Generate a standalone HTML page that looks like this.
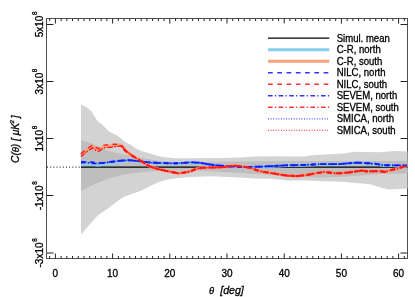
<!DOCTYPE html>
<html><head><meta charset="utf-8"><title>plot</title>
<style>
html,body{margin:0;padding:0;background:#fff;}
body{width:415px;height:297px;overflow:hidden;}
svg{will-change:transform;}
svg text{font-family:"Liberation Sans",sans-serif;fill:#000;white-space:pre;stroke:#000;stroke-width:0.3px;}
.t{font-size:10px;}
.ti{font-size:10.2px;font-style:italic;}
</style></head><body>
<svg width="415" height="297" viewBox="0 0 415 297" style="display:block">
<rect width="415" height="297" fill="#fff"/>
<g stroke="#505050" stroke-width="1" fill="none" shape-rendering="crispEdges">
<rect x="46.5" y="18.5" width="361" height="240"/>
</g>
<g stroke="#222" stroke-width="1" fill="none">
<path d="M49.68 258.5v-2.5M49.68 18.5v2.5M55.40 258.5v-5M55.40 18.5v5M61.12 258.5v-2.5M61.12 18.5v2.5M66.84 258.5v-2.5M66.84 18.5v2.5M72.56 258.5v-2.5M72.56 18.5v2.5M78.28 258.5v-2.5M78.28 18.5v2.5M84.00 258.5v-2.5M84.00 18.5v2.5M89.72 258.5v-2.5M89.72 18.5v2.5M95.44 258.5v-2.5M95.44 18.5v2.5M101.16 258.5v-2.5M101.16 18.5v2.5M106.88 258.5v-2.5M106.88 18.5v2.5M112.60 258.5v-5M112.60 18.5v5M118.32 258.5v-2.5M118.32 18.5v2.5M124.04 258.5v-2.5M124.04 18.5v2.5M129.76 258.5v-2.5M129.76 18.5v2.5M135.48 258.5v-2.5M135.48 18.5v2.5M141.20 258.5v-2.5M141.20 18.5v2.5M146.92 258.5v-2.5M146.92 18.5v2.5M152.64 258.5v-2.5M152.64 18.5v2.5M158.36 258.5v-2.5M158.36 18.5v2.5M164.08 258.5v-2.5M164.08 18.5v2.5M169.80 258.5v-5M169.80 18.5v5M175.52 258.5v-2.5M175.52 18.5v2.5M181.24 258.5v-2.5M181.24 18.5v2.5M186.96 258.5v-2.5M186.96 18.5v2.5M192.68 258.5v-2.5M192.68 18.5v2.5M198.40 258.5v-2.5M198.40 18.5v2.5M204.12 258.5v-2.5M204.12 18.5v2.5M209.84 258.5v-2.5M209.84 18.5v2.5M215.56 258.5v-2.5M215.56 18.5v2.5M221.28 258.5v-2.5M221.28 18.5v2.5M227.00 258.5v-5M227.00 18.5v5M232.72 258.5v-2.5M232.72 18.5v2.5M238.44 258.5v-2.5M238.44 18.5v2.5M244.16 258.5v-2.5M244.16 18.5v2.5M249.88 258.5v-2.5M249.88 18.5v2.5M255.60 258.5v-2.5M255.60 18.5v2.5M261.32 258.5v-2.5M261.32 18.5v2.5M267.04 258.5v-2.5M267.04 18.5v2.5M272.76 258.5v-2.5M272.76 18.5v2.5M278.48 258.5v-2.5M278.48 18.5v2.5M284.20 258.5v-5M284.20 18.5v5M289.92 258.5v-2.5M289.92 18.5v2.5M295.64 258.5v-2.5M295.64 18.5v2.5M301.36 258.5v-2.5M301.36 18.5v2.5M307.08 258.5v-2.5M307.08 18.5v2.5M312.80 258.5v-2.5M312.80 18.5v2.5M318.52 258.5v-2.5M318.52 18.5v2.5M324.24 258.5v-2.5M324.24 18.5v2.5M329.96 258.5v-2.5M329.96 18.5v2.5M335.68 258.5v-2.5M335.68 18.5v2.5M341.40 258.5v-5M341.40 18.5v5M347.12 258.5v-2.5M347.12 18.5v2.5M352.84 258.5v-2.5M352.84 18.5v2.5M358.56 258.5v-2.5M358.56 18.5v2.5M364.28 258.5v-2.5M364.28 18.5v2.5M370.00 258.5v-2.5M370.00 18.5v2.5M375.72 258.5v-2.5M375.72 18.5v2.5M381.44 258.5v-2.5M381.44 18.5v2.5M387.16 258.5v-2.5M387.16 18.5v2.5M392.88 258.5v-2.5M392.88 18.5v2.5M398.60 258.5v-5M398.60 18.5v5M404.32 258.5v-2.5M404.32 18.5v2.5"/>
<path d="M46.5 24.50h7M407.5 24.50h-7M46.5 81.50h7M407.5 81.50h-7M46.5 138.50h7M407.5 138.50h-7M46.5 195.50h7M407.5 195.50h-7"/>
</g>
<path d="M47 253h6.5M407 253h-6.5" stroke="#222" stroke-width="1" fill="none"/>
<polygon points="81.0,104.5 86.8,107.6 91.9,111.8 96.9,120.2 103.7,126.1 109.6,132.0 115.5,134.6 120.5,137.9 125.6,142.2 130.2,144.6 134.0,147.2 140.0,150.5 148.0,153.0 157.0,155.8 165.0,157.3 173.7,158.3 190.6,158.2 210.0,157.9 221.9,157.9 238.7,157.4 255.6,156.5 275.0,156.2 286.9,156.4 303.7,156.4 312.0,155.2 329.0,154.3 340.0,153.8 345.0,153.2 355.0,151.7 378.7,152.2 395.6,150.9 407.5,151.4 407.5,188.5 388.8,189.4 378.7,186.9 370.3,184.3 345.0,182.0 340.0,181.7 320.0,181.0 303.7,180.5 286.9,180.4 275.0,179.0 255.6,178.4 238.7,177.4 221.9,176.8 210.0,176.3 190.6,176.9 175.6,178.2 167.2,179.8 158.7,181.9 150.3,186.1 141.9,190.3 134.0,193.3 125.6,196.0 117.2,201.2 108.7,208.0 97.9,215.2 90.0,224.0 81.0,234.6" fill="#d3d3d3"/>
<polygon points="81.0,140.7 86.0,141.5 91.9,143.4 100.0,147.0 108.7,151.0 120.0,153.7 130.0,155.7 140.0,157.8 152.0,159.8 160.0,161.0 173.7,162.0 205.0,162.0 240.0,161.6 275.0,161.3 340.0,161.0 407.5,161.0 407.5,173.6 380.0,174.0 360.0,175.5 340.0,177.1 320.0,177.6 300.0,176.9 275.0,175.0 240.0,173.0 210.0,171.2 190.0,170.6 174.0,170.6 157.0,171.0 145.0,171.8 125.6,174.2 108.7,178.4 91.9,185.2 81.0,191.0" fill="#bebebe"/>
<path d="M47 167.1H82" stroke="#000" stroke-width="1" stroke-dasharray="1 2.17" fill="none"/>
<path d="M81 167.1H407.5" stroke="#000" stroke-width="1.1" fill="none"/>
<polyline points="81.0,164.0 82.8,164.0 84.5,164.1 86.2,164.1 88.0,164.1 89.8,164.3 91.6,164.5 93.4,164.6 95.2,164.8 97.0,165.0 98.8,164.9 100.5,164.8 102.2,164.6 104.0,164.4 106.0,164.0 108.0,163.6 110.0,163.3 112.0,162.9 114.0,162.5 116.0,162.2 118.0,161.8 120.0,161.4 122.0,161.2 124.0,161.0 126.0,160.8 128.0,160.6 130.0,160.4 131.7,160.6 133.5,160.8 135.2,160.9 136.9,161.1 138.7,161.3 140.4,161.5 142.4,161.8 144.4,162.1 146.4,162.3 148.4,162.6 150.3,162.7 152.3,162.8 154.2,162.9 156.1,163.0 158.1,163.1 160.0,163.2 162.0,163.2 163.9,163.3 165.9,163.3 167.8,163.4 169.8,163.4 171.7,163.5 173.7,163.5 175.4,163.4 177.0,163.4 178.7,163.3 180.3,163.3 182.0,163.2 183.7,163.1 185.4,162.9 187.2,162.8 188.9,162.6 190.6,162.5 192.5,162.6 194.4,162.7 196.2,162.8 198.1,162.9 200.0,163.0 201.7,163.3 203.4,163.6 205.2,163.9 206.9,164.2 208.6,164.4 210.3,164.7 211.9,164.9 213.6,165.2 215.3,165.4 217.0,165.6 218.7,165.7 220.3,165.9 222.0,166.0 223.7,166.2 225.3,166.3 227.0,166.4 228.7,166.6 230.3,166.7 232.0,166.8 233.7,166.8 235.4,166.9 237.2,167.0 238.9,167.0 240.6,167.1 242.2,167.1 243.9,167.1 245.5,167.2 247.2,167.2 249.1,167.1 250.9,167.1 252.8,167.0 254.7,167.0 256.5,166.9 258.4,166.9 260.3,166.8 262.1,166.8 264.0,166.7 265.8,166.6 267.7,166.5 269.5,166.4 271.3,166.3 273.2,166.2 275.0,166.1 277.0,166.0 279.0,165.9 280.9,165.8 282.9,165.7 284.9,165.6 286.9,165.5 288.8,165.5 290.6,165.4 292.5,165.4 294.4,165.4 296.2,165.3 298.1,165.3 300.0,165.3 301.8,165.2 303.7,165.2 305.6,165.1 307.5,165.0 309.3,164.9 311.2,164.8 313.1,164.7 315.0,164.6 316.8,164.5 318.7,164.4 320.6,164.3 322.5,164.3 324.5,164.3 326.4,164.3 328.4,164.3 330.3,164.3 332.2,164.3 334.2,164.3 336.1,164.3 338.1,164.3 340.0,164.3 341.7,164.1 343.3,164.0 345.0,163.8 347.0,163.6 348.9,163.5 350.9,163.3 352.9,163.1 354.8,163.0 356.8,162.8 358.5,162.9 360.2,163.0 361.9,163.1 363.6,163.2 365.3,163.3 367.0,163.4 368.7,163.5 370.4,163.6 372.0,163.8 373.7,163.9 375.4,164.0 377.1,164.3 378.8,164.6 380.4,164.8 382.1,165.1 383.8,165.4 385.8,165.4 387.7,165.5 389.7,165.5 391.7,165.5 393.6,165.6 395.6,165.6 397.5,165.6 399.4,165.6 401.3,165.6 403.2,165.7 405.1,165.7 407.0,165.7" stroke="#87ceeb" stroke-width="3" fill="none" stroke-linejoin="round"/>
<polyline points="81.0,155.1 82.7,153.7 84.3,152.4 86.0,151.0 87.6,149.8 89.2,148.7 90.9,147.5 92.5,146.3 94.0,147.4 95.5,148.5 97.0,149.3 98.6,150.1 100.0,149.1 101.5,148.0 102.9,147.2 104.3,146.5 106.2,146.3 108.1,146.2 110.0,146.0 112.0,145.8 114.0,145.5 115.8,145.4 117.5,145.3 119.2,145.3 121.0,145.2 123.0,147.5 124.1,149.1 125.2,150.6 126.9,151.8 128.5,153.0 130.2,154.2 131.9,155.4 133.6,156.5 135.3,157.7 137.0,158.7 138.7,159.7 140.4,160.7 142.1,161.7 143.7,162.8 145.4,163.8 147.1,164.8 148.8,165.8 150.5,166.8 152.1,167.3 153.8,167.8 155.4,168.2 157.1,168.7 158.7,169.2 160.4,169.6 162.1,169.9 163.8,170.3 165.4,170.7 167.1,171.0 168.8,171.4 170.5,171.7 172.2,172.1 173.9,172.4 175.6,172.7 177.3,173.1 179.0,173.4 180.7,173.1 182.4,172.8 184.0,172.6 185.7,172.3 187.4,172.0 188.7,171.7 190.0,171.4 191.7,170.8 193.3,170.1 195.0,169.5 196.7,168.9 198.4,168.3 200.1,168.1 201.8,168.0 203.5,167.8 205.2,167.7 206.9,167.5 208.6,167.5 210.3,167.5 211.9,167.5 213.6,167.5 215.3,167.5 217.0,167.4 218.7,167.3 220.3,167.2 222.0,167.1 223.7,167.0 225.4,166.7 227.1,166.5 228.8,166.2 230.5,166.0 232.2,165.7 233.9,165.8 235.6,165.9 237.2,166.0 238.9,166.1 240.6,166.3 242.2,166.6 243.9,166.8 245.6,167.0 247.3,167.3 249.0,167.7 250.7,168.1 252.4,168.4 254.0,169.1 255.6,169.7 257.1,170.2 258.5,170.7 260.0,171.2 262.0,171.6 264.0,172.0 266.0,172.3 268.0,172.5 270.0,172.8 272.0,173.2 274.0,173.5 276.0,173.9 278.0,174.2 280.0,174.6 282.0,174.9 284.0,175.1 286.0,175.4 288.0,175.7 289.8,175.8 291.6,175.9 293.4,175.9 295.2,176.0 297.0,176.1 299.0,175.9 301.0,175.6 303.0,175.4 305.0,175.1 307.0,174.9 308.7,174.6 310.4,174.3 312.1,173.9 313.8,173.6 315.5,173.3 317.2,173.0 318.9,172.7 320.6,172.5 322.3,172.2 324.0,171.9 326.0,172.1 328.0,172.4 330.0,172.6 332.0,172.9 334.0,173.1 336.0,173.2 338.0,173.2 340.0,173.3 341.7,173.1 343.3,173.0 345.0,172.8 347.0,172.6 349.0,172.4 351.0,172.1 353.0,171.9 354.8,171.6 356.6,171.3 358.3,171.1 360.1,170.8 361.9,170.5 363.6,170.8 365.3,171.1 367.0,171.4 368.6,171.4 370.3,171.3 372.0,171.2 373.7,171.2 375.3,171.1 377.0,171.1 378.7,171.0 380.3,171.2 381.9,171.4 383.4,171.7 385.0,171.9 386.9,171.3 388.7,170.8 390.6,170.2 392.3,169.8 394.0,169.4 395.6,169.0 397.3,168.6 399.0,168.2 401.0,167.5 403.0,166.8 405.0,166.2 407.0,165.5" stroke="#ffa07a" stroke-width="3" fill="none" stroke-linejoin="round"/>
<polyline points="81.0,161.6 82.8,161.7 84.5,161.7 86.2,161.7 88.0,161.8 89.8,161.9 91.6,162.1 93.4,162.3 95.2,162.5 97.0,162.7 98.8,162.7 100.0,162.6" stroke="#1a1aff" stroke-width="1.5" stroke-dasharray="4.7 4.5" fill="none" stroke-linejoin="round"/>
<polyline points="81.0,162.8 82.8,162.8 84.5,162.8 86.2,162.8 88.0,162.9 89.8,163.0 91.6,163.2 93.4,163.4 95.2,163.5 97.0,163.7 98.8,163.5 100.0,163.4" stroke="#1a1aff" stroke-width="1.5" stroke-dasharray="4.6 2.3 1.2 2.5" fill="none" stroke-linejoin="round"/>
<polyline points="81.0,162.2 82.8,162.2 84.5,162.2 86.2,162.3 88.0,162.3 89.8,162.5 91.6,162.7 93.4,162.8 95.2,163.0 97.0,163.2 98.8,163.1 100.0,163.0" stroke="#1a1aff" stroke-width="1.1" stroke-dasharray="1 1.57" fill="none" stroke-linejoin="round"/>
<polyline points="100.0,163.0 100.5,163.0 102.2,162.9 104.0,162.8 106.0,162.5 108.0,162.3 110.0,162.0 112.0,161.7 114.0,161.5 116.0,161.2 118.0,161.0 120.0,160.7 122.0,160.6 124.0,160.5 126.0,160.4 128.0,160.3 130.0,160.2 131.7,160.4 133.5,160.6 135.2,160.8 136.9,160.9 138.7,161.1 140.4,161.3 142.4,161.6 144.4,161.9 146.4,162.1 148.4,162.4 150.3,162.5 152.3,162.6 154.2,162.7 156.1,162.8 158.1,162.9 160.0,163.0 162.0,163.0 163.9,163.1 165.9,163.1 167.8,163.2 169.8,163.2 171.7,163.3 173.7,163.3 175.4,163.2 177.0,163.2 178.7,163.1 180.3,163.1 182.0,163.0 183.7,162.9 185.4,162.7 187.2,162.6 188.9,162.4 190.6,162.3 192.5,162.4 194.4,162.5 196.2,162.6 198.1,162.7 200.0,162.8 201.7,163.1 203.4,163.4 205.2,163.7 206.9,164.0 208.6,164.2 210.3,164.5 211.9,164.7 213.6,165.0 215.3,165.2 217.0,165.4 218.7,165.5 220.3,165.7 222.0,165.8 223.7,166.0 225.3,166.1 227.0,166.2 228.7,166.4 230.3,166.5 232.0,166.6 233.7,166.6 235.4,166.7 237.2,166.8 238.9,166.8 240.6,166.9 242.2,166.9 243.9,166.9 245.5,167.0 247.2,167.0 249.1,166.9 250.9,166.9 252.8,166.8 254.7,166.8 256.5,166.7 258.4,166.7 260.3,166.6 262.1,166.6 264.0,166.5 265.8,166.4 267.7,166.3 269.5,166.2 271.3,166.1 273.2,166.0 275.0,165.9 277.0,165.8 279.0,165.7 280.9,165.6 282.9,165.5 284.9,165.4 286.9,165.3 288.8,165.3 290.6,165.2 292.5,165.2 294.4,165.2 296.2,165.1 298.1,165.1 300.0,165.1 301.8,165.0 303.7,165.0 305.6,164.9 307.5,164.8 309.3,164.7 311.2,164.6 313.1,164.5 315.0,164.4 316.8,164.3 318.7,164.2 320.6,164.1 322.5,164.1 324.5,164.1 326.4,164.1 328.4,164.1 330.3,164.1 332.2,164.1 334.2,164.1 336.1,164.1 338.1,164.1 340.0,164.1 341.7,163.9 343.3,163.8 345.0,163.6 347.0,163.4 348.9,163.3 350.9,163.1 352.9,162.9 354.8,162.8 356.8,162.6 358.5,162.7 360.2,162.8 361.9,162.9 363.6,163.0 365.3,163.1 367.0,163.2 368.7,163.3 370.4,163.4 372.0,163.6 373.7,163.7 375.4,163.8 377.1,164.1 378.8,164.4 380.4,164.6 382.1,164.9 383.8,165.2 385.8,165.2 387.7,165.3 389.7,165.3 391.7,165.3 393.6,165.4 395.6,165.4 397.5,165.4 399.4,165.4 401.3,165.4 403.2,165.5 405.1,165.5 407.0,165.5" stroke="#1a1aff" stroke-width="1.9" stroke-dasharray="4.7 4.5" fill="none" stroke-linejoin="round"/>
<polyline points="100.0,163.0 100.5,163.0 102.2,162.9 104.0,162.8 106.0,162.5 108.0,162.3 110.0,162.0 112.0,161.7 114.0,161.5 116.0,161.2 118.0,161.0 120.0,160.7 122.0,160.6 124.0,160.5 126.0,160.4 128.0,160.3 130.0,160.2 131.7,160.4 133.5,160.6 135.2,160.8 136.9,160.9 138.7,161.1 140.4,161.3 142.4,161.6 144.4,161.9 146.4,162.1 148.4,162.4 150.3,162.5 152.3,162.6 154.2,162.7 156.1,162.8 158.1,162.9 160.0,163.0 162.0,163.0 163.9,163.1 165.9,163.1 167.8,163.2 169.8,163.2 171.7,163.3 173.7,163.3 175.4,163.2 177.0,163.2 178.7,163.1 180.3,163.1 182.0,163.0 183.7,162.9 185.4,162.7 187.2,162.6 188.9,162.4 190.6,162.3 192.5,162.4 194.4,162.5 196.2,162.6 198.1,162.7 200.0,162.8 201.7,163.1 203.4,163.4 205.2,163.7 206.9,164.0 208.6,164.2 210.3,164.5 211.9,164.7 213.6,165.0 215.3,165.2 217.0,165.4 218.7,165.5 220.3,165.7 222.0,165.8 223.7,166.0 225.3,166.1 227.0,166.2 228.7,166.4 230.3,166.5 232.0,166.6 233.7,166.6 235.4,166.7 237.2,166.8 238.9,166.8 240.6,166.9 242.2,166.9 243.9,166.9 245.5,167.0 247.2,167.0 249.1,166.9 250.9,166.9 252.8,166.8 254.7,166.8 256.5,166.7 258.4,166.7 260.3,166.6 262.1,166.6 264.0,166.5 265.8,166.4 267.7,166.3 269.5,166.2 271.3,166.1 273.2,166.0 275.0,165.9 277.0,165.8 279.0,165.7 280.9,165.6 282.9,165.5 284.9,165.4 286.9,165.3 288.8,165.3 290.6,165.2 292.5,165.2 294.4,165.2 296.2,165.1 298.1,165.1 300.0,165.1 301.8,165.0 303.7,165.0 305.6,164.9 307.5,164.8 309.3,164.7 311.2,164.6 313.1,164.5 315.0,164.4 316.8,164.3 318.7,164.2 320.6,164.1 322.5,164.1 324.5,164.1 326.4,164.1 328.4,164.1 330.3,164.1 332.2,164.1 334.2,164.1 336.1,164.1 338.1,164.1 340.0,164.1 341.7,163.9 343.3,163.8 345.0,163.6 347.0,163.4 348.9,163.3 350.9,163.1 352.9,162.9 354.8,162.8 356.8,162.6 358.5,162.7 360.2,162.8 361.9,162.9 363.6,163.0 365.3,163.1 367.0,163.2 368.7,163.3 370.4,163.4 372.0,163.6 373.7,163.7 375.4,163.8 377.1,164.1 378.8,164.4 380.4,164.6 382.1,164.9 383.8,165.2 385.8,165.2 387.7,165.3 389.7,165.3 391.7,165.3 393.6,165.4 395.6,165.4 397.5,165.4 399.4,165.4 401.3,165.4 403.2,165.5 405.1,165.5 407.0,165.5" stroke="#1a1aff" stroke-width="1.9" stroke-dasharray="4.6 2.3 1.2 2.5" fill="none" stroke-linejoin="round"/>
<polyline points="100.0,163.0 100.5,163.0 102.2,162.9 104.0,162.8 106.0,162.5 108.0,162.3 110.0,162.0 112.0,161.7 114.0,161.5 116.0,161.2 118.0,161.0 120.0,160.7 122.0,160.6 124.0,160.5 126.0,160.4 128.0,160.3 130.0,160.2 131.7,160.4 133.5,160.6 135.2,160.8 136.9,160.9 138.7,161.1 140.4,161.3 142.4,161.6 144.4,161.9 146.4,162.1 148.4,162.4 150.3,162.5 152.3,162.6 154.2,162.7 156.1,162.8 158.1,162.9 160.0,163.0 162.0,163.0 163.9,163.1 165.9,163.1 167.8,163.2 169.8,163.2 171.7,163.3 173.7,163.3 175.4,163.2 177.0,163.2 178.7,163.1 180.3,163.1 182.0,163.0 183.7,162.9 185.4,162.7 187.2,162.6 188.9,162.4 190.6,162.3 192.5,162.4 194.4,162.5 196.2,162.6 198.1,162.7 200.0,162.8 201.7,163.1 203.4,163.4 205.2,163.7 206.9,164.0 208.6,164.2 210.3,164.5 211.9,164.7 213.6,165.0 215.3,165.2 217.0,165.4 218.7,165.5 220.3,165.7 222.0,165.8 223.7,166.0 225.3,166.1 227.0,166.2 228.7,166.4 230.3,166.5 232.0,166.6 233.7,166.6 235.4,166.7 237.2,166.8 238.9,166.8 240.6,166.9 242.2,166.9 243.9,166.9 245.5,167.0 247.2,167.0 249.1,166.9 250.9,166.9 252.8,166.8 254.7,166.8 256.5,166.7 258.4,166.7 260.3,166.6 262.1,166.6 264.0,166.5 265.8,166.4 267.7,166.3 269.5,166.2 271.3,166.1 273.2,166.0 275.0,165.9 277.0,165.8 279.0,165.7 280.9,165.6 282.9,165.5 284.9,165.4 286.9,165.3 288.8,165.3 290.6,165.2 292.5,165.2 294.4,165.2 296.2,165.1 298.1,165.1 300.0,165.1 301.8,165.0 303.7,165.0 305.6,164.9 307.5,164.8 309.3,164.7 311.2,164.6 313.1,164.5 315.0,164.4 316.8,164.3 318.7,164.2 320.6,164.1 322.5,164.1 324.5,164.1 326.4,164.1 328.4,164.1 330.3,164.1 332.2,164.1 334.2,164.1 336.1,164.1 338.1,164.1 340.0,164.1 341.7,163.9 343.3,163.8 345.0,163.6 347.0,163.4 348.9,163.3 350.9,163.1 352.9,162.9 354.8,162.8 356.8,162.6 358.5,162.7 360.2,162.8 361.9,162.9 363.6,163.0 365.3,163.1 367.0,163.2 368.7,163.3 370.4,163.4 372.0,163.6 373.7,163.7 375.4,163.8 377.1,164.1 378.8,164.4 380.4,164.6 382.1,164.9 383.8,165.2 385.8,165.2 387.7,165.3 389.7,165.3 391.7,165.3 393.6,165.4 395.6,165.4 397.5,165.4 399.4,165.4 401.3,165.4 403.2,165.5 405.1,165.5 407.0,165.5" stroke="#1a1aff" stroke-width="1.2" stroke-dasharray="1 1.57" fill="none" stroke-linejoin="round"/>
<polyline points="81.0,153.7 82.7,152.3 84.3,150.9 86.0,149.6 87.6,148.4 89.2,147.2 90.9,146.0 92.5,144.9 94.0,146.0 95.5,147.1 97.0,147.9 98.6,148.7 100.0,147.6 101.5,146.6 102.9,145.8 104.3,145.1 106.2,144.9 108.1,144.7 110.0,144.6 112.0,144.3 114.0,144.2 115.8,144.3 117.5,144.4 119.2,144.4 121.0,144.5 123.0,147.0 124.0,148.5" stroke="#ff1a1a" stroke-width="1.4" stroke-dasharray="4.7 4.5" fill="none" stroke-linejoin="round"/>
<polyline points="81.0,156.5 82.7,155.2 84.3,153.8 86.0,152.4 87.6,151.3 89.2,150.1 90.9,148.9 92.5,147.8 94.0,148.8 95.5,149.9 97.0,150.8 98.6,151.5 100.0,150.5 101.5,149.4 102.9,148.7 104.3,147.9 106.2,147.8 108.1,147.6 110.0,147.4 112.0,147.2 114.0,146.8 115.8,146.6 117.5,146.3 119.2,146.1 121.0,145.9 123.0,148.0 124.0,149.4" stroke="#ff1a1a" stroke-width="1.4" stroke-dasharray="4.6 2.3 1.2 2.5" fill="none" stroke-linejoin="round"/>
<polyline points="81.0,156.3 82.7,154.9 84.3,153.5 86.0,152.2 87.6,151.0 89.2,149.8 90.9,148.6 92.5,147.5 94.0,148.6 95.5,149.7 97.0,150.5 98.6,151.3 100.0,150.2 101.5,149.2 102.9,148.4 104.3,147.7 106.2,147.5 108.1,147.3 110.0,147.2 112.0,146.9 114.0,146.5 115.8,146.3 117.5,146.1 119.2,146.0 121.0,145.8 123.0,147.9 124.0,149.3" stroke="#ff1a1a" stroke-width="1.1" stroke-dasharray="1 1.57" fill="none" stroke-linejoin="round"/>
<polyline points="124.0,148.9 124.1,149.1 125.2,150.6 126.9,151.8 128.5,153.0 130.2,154.2 131.9,155.4 133.6,156.5 135.3,157.7 137.0,158.7 138.7,159.7 140.4,160.7 142.1,161.7 143.7,162.8 145.4,163.8 147.1,164.8 148.8,165.8 150.5,166.8 152.1,167.3 153.8,167.8 155.4,168.2 157.1,168.7 158.7,169.2 160.4,169.6 162.1,169.9 163.8,170.3 165.4,170.7 167.1,171.0 168.8,171.4 170.5,171.7 172.2,172.1 173.9,172.4 175.6,172.7 177.3,173.1 179.0,173.4 180.7,173.1 182.4,172.8 184.0,172.6 185.7,172.3 187.4,172.0 188.7,171.7 190.0,171.4 191.7,170.8 193.3,170.1 195.0,169.5 196.7,168.9 198.4,168.3 200.1,168.1 201.8,168.0 203.5,167.8 205.2,167.7 206.9,167.5 208.6,167.5 210.3,167.5 211.9,167.5 213.6,167.5 215.3,167.5 217.0,167.4 218.7,167.3 220.3,167.2 222.0,167.1 223.7,167.0 225.4,166.7 227.1,166.5 228.8,166.2 230.5,166.0 232.2,165.7 233.9,165.8 235.6,165.9 237.2,166.0 238.9,166.1 240.6,166.3 242.2,166.6 243.9,166.8 245.6,167.0 247.3,167.3 249.0,167.7 250.7,168.1 252.4,168.4 254.0,169.1 255.6,169.7 257.1,170.2 258.5,170.7 260.0,171.2 262.0,171.6 264.0,172.0 266.0,172.3 268.0,172.5 270.0,172.8 272.0,173.2 274.0,173.5 276.0,173.9 278.0,174.2 280.0,174.6 282.0,174.9 284.0,175.1 286.0,175.4 288.0,175.7 289.8,175.8 291.6,175.9 293.4,175.9 295.2,176.0 297.0,176.1 299.0,175.9 301.0,175.6 303.0,175.4 305.0,175.1 307.0,174.9 308.7,174.6 310.4,174.3 312.1,173.9 313.8,173.6 315.5,173.3 317.2,173.0 318.9,172.7 320.6,172.5 322.3,172.2 324.0,171.9 326.0,172.1 328.0,172.4 330.0,172.6 332.0,172.9 334.0,173.1 336.0,173.2 338.0,173.2 340.0,173.3 341.7,173.1 343.3,173.0 345.0,172.8 347.0,172.6 349.0,172.4 351.0,172.1 353.0,171.9 354.8,171.6 356.6,171.3 358.3,171.1 360.1,170.8 361.9,170.5 363.6,170.8 365.3,171.1 367.0,171.4 368.6,171.4 370.3,171.3 372.0,171.2 373.7,171.2 375.3,171.1 377.0,171.1 378.7,171.0 380.3,171.2 381.9,171.4 383.4,171.7 385.0,171.9 386.9,171.3 388.7,170.8 390.6,170.2 392.3,169.8 394.0,169.4 395.6,169.0 397.3,168.6 399.0,168.2 401.0,167.5 403.0,166.8 405.0,166.2 407.0,165.5" stroke="#ff1a1a" stroke-width="2.1" stroke-dasharray="4.7 4.5" fill="none" stroke-linejoin="round"/>
<polyline points="124.0,148.9 124.1,149.1 125.2,150.6 126.9,151.8 128.5,153.0 130.2,154.2 131.9,155.4 133.6,156.5 135.3,157.7 137.0,158.7 138.7,159.7 140.4,160.7 142.1,161.7 143.7,162.8 145.4,163.8 147.1,164.8 148.8,165.8 150.5,166.8 152.1,167.3 153.8,167.8 155.4,168.2 157.1,168.7 158.7,169.2 160.4,169.6 162.1,169.9 163.8,170.3 165.4,170.7 167.1,171.0 168.8,171.4 170.5,171.7 172.2,172.1 173.9,172.4 175.6,172.7 177.3,173.1 179.0,173.4 180.7,173.1 182.4,172.8 184.0,172.6 185.7,172.3 187.4,172.0 188.7,171.7 190.0,171.4 191.7,170.8 193.3,170.1 195.0,169.5 196.7,168.9 198.4,168.3 200.1,168.1 201.8,168.0 203.5,167.8 205.2,167.7 206.9,167.5 208.6,167.5 210.3,167.5 211.9,167.5 213.6,167.5 215.3,167.5 217.0,167.4 218.7,167.3 220.3,167.2 222.0,167.1 223.7,167.0 225.4,166.7 227.1,166.5 228.8,166.2 230.5,166.0 232.2,165.7 233.9,165.8 235.6,165.9 237.2,166.0 238.9,166.1 240.6,166.3 242.2,166.6 243.9,166.8 245.6,167.0 247.3,167.3 249.0,167.7 250.7,168.1 252.4,168.4 254.0,169.1 255.6,169.7 257.1,170.2 258.5,170.7 260.0,171.2 262.0,171.6 264.0,172.0 266.0,172.3 268.0,172.5 270.0,172.8 272.0,173.2 274.0,173.5 276.0,173.9 278.0,174.2 280.0,174.6 282.0,174.9 284.0,175.1 286.0,175.4 288.0,175.7 289.8,175.8 291.6,175.9 293.4,175.9 295.2,176.0 297.0,176.1 299.0,175.9 301.0,175.6 303.0,175.4 305.0,175.1 307.0,174.9 308.7,174.6 310.4,174.3 312.1,173.9 313.8,173.6 315.5,173.3 317.2,173.0 318.9,172.7 320.6,172.5 322.3,172.2 324.0,171.9 326.0,172.1 328.0,172.4 330.0,172.6 332.0,172.9 334.0,173.1 336.0,173.2 338.0,173.2 340.0,173.3 341.7,173.1 343.3,173.0 345.0,172.8 347.0,172.6 349.0,172.4 351.0,172.1 353.0,171.9 354.8,171.6 356.6,171.3 358.3,171.1 360.1,170.8 361.9,170.5 363.6,170.8 365.3,171.1 367.0,171.4 368.6,171.4 370.3,171.3 372.0,171.2 373.7,171.2 375.3,171.1 377.0,171.1 378.7,171.0 380.3,171.2 381.9,171.4 383.4,171.7 385.0,171.9 386.9,171.3 388.7,170.8 390.6,170.2 392.3,169.8 394.0,169.4 395.6,169.0 397.3,168.6 399.0,168.2 401.0,167.5 403.0,166.8 405.0,166.2 407.0,165.5" stroke="#ff1a1a" stroke-width="2.1" stroke-dasharray="4.6 2.3 1.2 2.5" fill="none" stroke-linejoin="round"/>
<polyline points="124.0,148.9 124.1,149.1 125.2,150.6 126.9,151.8 128.5,153.0 130.2,154.2 131.9,155.4 133.6,156.5 135.3,157.7 137.0,158.7 138.7,159.7 140.4,160.7 142.1,161.7 143.7,162.8 145.4,163.8 147.1,164.8 148.8,165.8 150.5,166.8 152.1,167.3 153.8,167.8 155.4,168.2 157.1,168.7 158.7,169.2 160.4,169.6 162.1,169.9 163.8,170.3 165.4,170.7 167.1,171.0 168.8,171.4 170.5,171.7 172.2,172.1 173.9,172.4 175.6,172.7 177.3,173.1 179.0,173.4 180.7,173.1 182.4,172.8 184.0,172.6 185.7,172.3 187.4,172.0 188.7,171.7 190.0,171.4 191.7,170.8 193.3,170.1 195.0,169.5 196.7,168.9 198.4,168.3 200.1,168.1 201.8,168.0 203.5,167.8 205.2,167.7 206.9,167.5 208.6,167.5 210.3,167.5 211.9,167.5 213.6,167.5 215.3,167.5 217.0,167.4 218.7,167.3 220.3,167.2 222.0,167.1 223.7,167.0 225.4,166.7 227.1,166.5 228.8,166.2 230.5,166.0 232.2,165.7 233.9,165.8 235.6,165.9 237.2,166.0 238.9,166.1 240.6,166.3 242.2,166.6 243.9,166.8 245.6,167.0 247.3,167.3 249.0,167.7 250.7,168.1 252.4,168.4 254.0,169.1 255.6,169.7 257.1,170.2 258.5,170.7 260.0,171.2 262.0,171.6 264.0,172.0 266.0,172.3 268.0,172.5 270.0,172.8 272.0,173.2 274.0,173.5 276.0,173.9 278.0,174.2 280.0,174.6 282.0,174.9 284.0,175.1 286.0,175.4 288.0,175.7 289.8,175.8 291.6,175.9 293.4,175.9 295.2,176.0 297.0,176.1 299.0,175.9 301.0,175.6 303.0,175.4 305.0,175.1 307.0,174.9 308.7,174.6 310.4,174.3 312.1,173.9 313.8,173.6 315.5,173.3 317.2,173.0 318.9,172.7 320.6,172.5 322.3,172.2 324.0,171.9 326.0,172.1 328.0,172.4 330.0,172.6 332.0,172.9 334.0,173.1 336.0,173.2 338.0,173.2 340.0,173.3 341.7,173.1 343.3,173.0 345.0,172.8 347.0,172.6 349.0,172.4 351.0,172.1 353.0,171.9 354.8,171.6 356.6,171.3 358.3,171.1 360.1,170.8 361.9,170.5 363.6,170.8 365.3,171.1 367.0,171.4 368.6,171.4 370.3,171.3 372.0,171.2 373.7,171.2 375.3,171.1 377.0,171.1 378.7,171.0 380.3,171.2 381.9,171.4 383.4,171.7 385.0,171.9 386.9,171.3 388.7,170.8 390.6,170.2 392.3,169.8 394.0,169.4 395.6,169.0 397.3,168.6 399.0,168.2 401.0,167.5 403.0,166.8 405.0,166.2 407.0,165.5" stroke="#ff1a1a" stroke-width="1.3" stroke-dasharray="1 1.57" fill="none" stroke-linejoin="round"/>
<path d="M268 38.10H329.3" stroke="#000" stroke-width="1.2" fill="none"/>
<text transform="translate(336.7 41.50) scale(0.957 1)" class="t">Simul. mean</text>
<path d="M268 49.64H329.3" stroke="#87ceeb" stroke-width="3" fill="none"/>
<text transform="translate(336.7 53.04) scale(0.957 1)" class="t">C-R, north</text>
<path d="M268 61.18H329.3" stroke="#ffa07a" stroke-width="3" fill="none"/>
<text transform="translate(336.7 64.58) scale(0.957 1)" class="t">C-R, south</text>
<path d="M268 72.72H329.3" stroke="#3333ff" stroke-width="1.55" stroke-dasharray="4.7 4.57" fill="none"/>
<text transform="translate(336.7 76.12) scale(0.957 1)" class="t">NILC, north</text>
<path d="M268 84.26H329.3" stroke="#ff3333" stroke-width="1.55" stroke-dasharray="4.7 4.57" fill="none"/>
<text transform="translate(336.7 87.66) scale(0.957 1)" class="t">NILC, south</text>
<path d="M268 95.80H329.3" stroke="#3333ff" stroke-width="1.55" stroke-dasharray="4.6 2.3 1.2 2.5" fill="none"/>
<text transform="translate(336.7 99.20) scale(0.957 1)" class="t">SEVEM, north</text>
<path d="M268 107.34H329.3" stroke="#ff3333" stroke-width="1.55" stroke-dasharray="4.6 2.3 1.2 2.5" fill="none"/>
<text transform="translate(336.7 110.74) scale(0.957 1)" class="t">SEVEM, south</text>
<path d="M268 118.88H329.3" stroke="#4d4dff" stroke-width="1.3" stroke-dasharray="1 1.57" fill="none"/>
<text transform="translate(336.7 122.28) scale(0.957 1)" class="t">SMICA, north</text>
<path d="M268 130.42H329.3" stroke="#ff4d4d" stroke-width="1.3" stroke-dasharray="1 1.57" fill="none"/>
<text transform="translate(336.7 133.82) scale(0.957 1)" class="t">SMICA, south</text>
<text x="55.40" y="277.4" class="t" text-anchor="middle">0</text>
<text x="112.60" y="277.4" class="t" text-anchor="middle">10</text>
<text x="169.80" y="277.4" class="t" text-anchor="middle">20</text>
<text x="227.00" y="277.4" class="t" text-anchor="middle">30</text>
<text x="284.20" y="277.4" class="t" text-anchor="middle">40</text>
<text x="341.40" y="277.4" class="t" text-anchor="middle">50</text>
<text x="398.60" y="277.4" class="t" text-anchor="middle">60</text>
<text x="209.1" y="293.5" class="ti"><tspan style="font-size:9.3px">θ</tspan></text>
<text x="220.2" y="293.5" class="ti" style="font-size:10.6px">[deg]</text>
<text transform="translate(43.3 24.40) rotate(-90)" class="t" text-anchor="middle">5x10<tspan dy="-6.0" dx="0.6" style="font-size:6.3px">8</tspan></text>
<text transform="translate(43.3 81.53) rotate(-90)" class="t" text-anchor="middle">3x10<tspan dy="-6.0" dx="0.6" style="font-size:6.3px">8</tspan></text>
<text transform="translate(43.3 138.66) rotate(-90)" class="t" text-anchor="middle">1x10<tspan dy="-6.0" dx="0.6" style="font-size:6.3px">8</tspan></text>
<text transform="translate(43.3 195.79) rotate(-90)" class="t" text-anchor="middle">-1x10<tspan dy="-6.0" dx="0.6" style="font-size:6.3px">8</tspan></text>
<text transform="translate(43.3 252.92) rotate(-90)" class="t" text-anchor="middle">-3x10<tspan dy="-6.0" dx="0.6" style="font-size:6.3px">8</tspan></text>
<text transform="translate(19 139.2) rotate(-90)" class="ti" text-anchor="middle">C(<tspan style="font-size:9.3px">θ</tspan>) [ μK<tspan dy="-5" dx="-0.3" style="font-size:5.5px">2</tspan><tspan dy="5" dx="1.8">]</tspan></text>
</svg>
</body></html>
